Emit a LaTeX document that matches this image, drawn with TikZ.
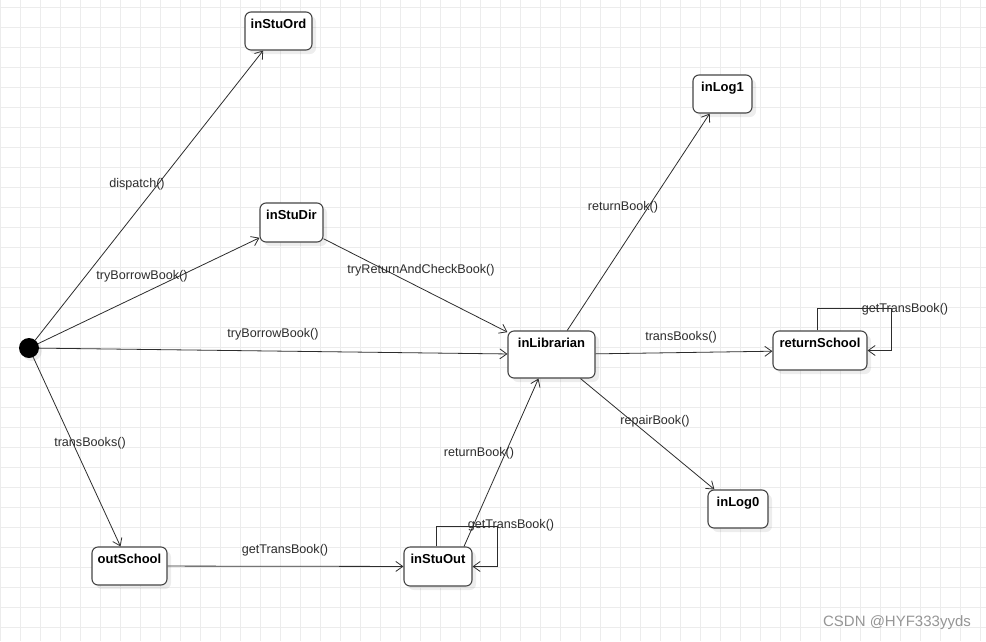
\documentclass[tikz,border=0pt]{standalone}
\usepackage{fontspec}
\setmainfont{Liberation Sans}
\usepackage{tikz}
\usetikzlibrary{
	arrows.meta,
	shadows
}
\definecolor{GridGray}{RGB}{236,236,236}
\definecolor{LineGray}{RGB}{45,45,45}
\definecolor{BoxBorder}{RGB}{70,70,70}
\definecolor{MarkGray}{RGB}{150,150,150}

\tikzset{
	state/.style={draw=BoxBorder, line width=1.1pt, rounded corners=6pt, fill=white,
		inner xsep=2pt, inner ysep=3pt, text height=13.5pt,
		font=\fontsize{13}{15}\selectfont\bfseries,
		drop shadow={shadow xshift=4pt, shadow yshift=-4pt, fill=black, opacity=0.07}},
	trans/.style={draw=LineGray, line width=0.8pt, -{Straight Barb[length=7pt,width=10pt]}},
	lbl/.style={text=LineGray, font=\fontsize{12.6}{14}\selectfont, inner sep=0pt}
}

\begin{document}
\begin{tikzpicture}[x=1pt, y=-1pt]
			\useasboundingbox (0,0) rectangle (986,641);
			\fill[white] (0,0) rectangle (986,641);
			% grid
			\foreach \gx in {0,20,...,980}
				\draw[GridGray, line width=0.7pt] (\gx,0) -- (\gx,641);
			\foreach \gy in {7,27,...,627}
				\draw[GridGray, line width=0.7pt] (0,\gy) -- (986,\gy);
			% states
			\node[circle, fill=black, minimum size=20pt, inner sep=0pt,
				drop shadow={shadow xshift=3pt, shadow yshift=-3pt, fill=black, opacity=0.07}] (init) at (29,348) {};
			\node[state, minimum width=67pt, text depth=18.5pt] (inStuOrd) at (278.5,31) {inStuOrd};
			\node[state, minimum width=63pt, text depth=19.5pt] (inStuDir) at (291.5,222.5) {inStuDir};
			\node[state, minimum width=87pt, text depth=27.5pt] (inLibrarian) at (551.5,354.5) {inLibrarian};
			\node[state, minimum width=59pt, text depth=18.5pt] (inLog1) at (722.5,94) {inLog1};
			\node[state, minimum width=94pt, text depth=19.5pt] (returnSchool) at (820,350.5) {returnSchool};
			\node[state, minimum width=60pt, text depth=18.5pt] (inLog0) at (738,509) {inLog0};
			\node[state, minimum width=68pt, text depth=19.5pt] (inStuOut) at (438,566.5) {inStuOut};
			\node[state, minimum width=75pt, text depth=18.5pt] (outSchool) at (129.5,566) {outSchool};
			% transitions
			\draw[trans] (init) -- (inStuOrd);
			\draw[trans] (init) -- (inStuDir);
			\draw[trans] (init) -- (inLibrarian);
			\draw[trans] (init) -- (outSchool);
			\draw[trans] (inStuDir) -- (inLibrarian);
			\draw[trans] (inLibrarian) -- (inLog1);
			\draw[trans] (inLibrarian) -- (returnSchool);
			\draw[trans] (inLibrarian) -- (inLog0);
			\draw[trans] (outSchool) -- (inStuOut);
			\draw[trans] ([xshift=26pt]inStuOut.north) -- ([xshift=-13pt]inLibrarian.south);
			\draw[trans] ([xshift=-2pt]inStuOut.north) -- ++(0,-20) -| ([xshift=25pt]inStuOut.east) -- (inStuOut.east);
			\draw[trans] ([xshift=-3pt]returnSchool.north) -- ++(0,-22) -| ([xshift=24pt]returnSchool.east) -- (returnSchool.east);
			% labels
			\node[lbl] (lDispatch) at (137,184) {dispatch()};
			\node[lbl] (lTryDir) at (142,276) {tryBorrowBook()};
			\node[lbl] (lTryLib) at (273,334) {tryBorrowBook()};
			\node[lbl] (lTransOut) at (90,443) {transBooks()};
			\node[lbl] (lTryReturn) at (421,270) {tryReturnAndCheckBook()};
			\node[lbl] (lReturnLog) at (623,207) {returnBook()};
			\node[lbl] (lTransRet) at (681,337) {transBooks()};
			\node[lbl] (lRepair) at (655,421) {repairBook()};
			\node[lbl] (lGetOut) at (285,550) {getTransBook()};
			\node[lbl] (lReturnLib) at (479,453) {returnBook()};
			\node[lbl] (lGetLoopOut) at (511,525) {getTransBook()};
			\node[lbl] (lGetLoopRet) at (905,309) {getTransBook()};
			\node[text=MarkGray, font=\fontsize{15}{17}\selectfont, inner sep=0pt] (mark) at (897,623) {CSDN @HYF333yyds};
		\end{tikzpicture}
\end{document}
